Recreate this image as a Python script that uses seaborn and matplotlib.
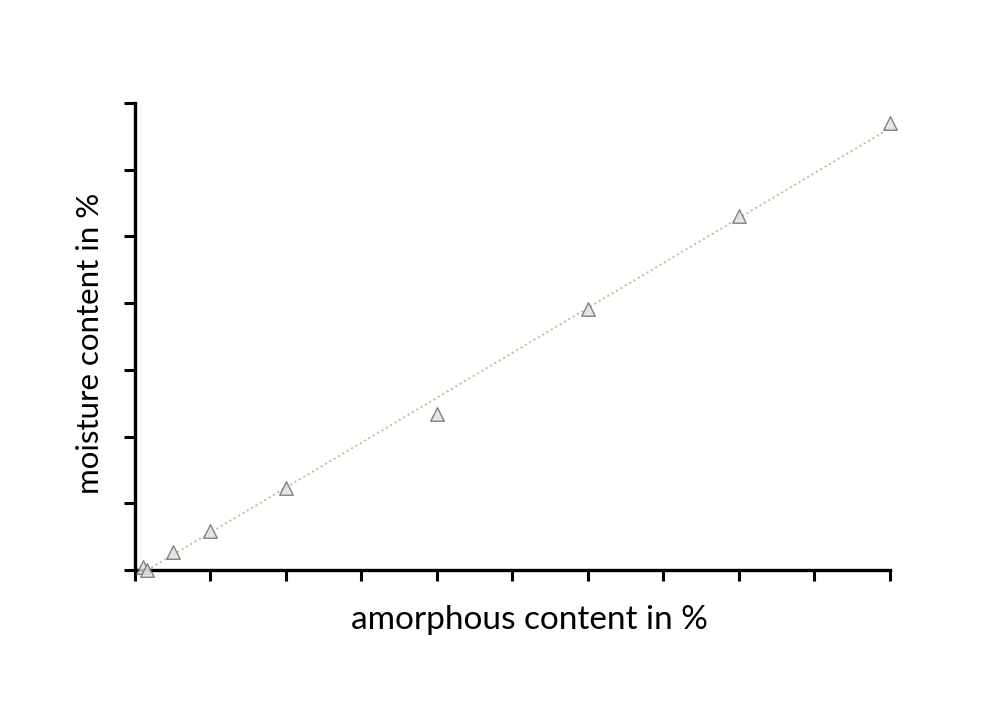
import numpy as np
import pandas as pd
import matplotlib
matplotlib.use("Agg")
import matplotlib.pyplot as plt
import seaborn as sns

# values (axes carry no tick labels)
amorphous = [1.0, 1.6, 5, 10, 20, 40, 60, 80, 100]
moisture = [0.05, 0.0, 0.27, 0.58, 1.23, 2.34, 3.91, 5.31, 6.70]
x_ticks = list(range(0, 101, 10))
y_ticks = list(range(0, 8))

df = pd.DataFrame({"amorphous": amorphous, "moisture": moisture})

sns.set_theme(style="ticks")
plt.rcParams["font.family"] = ["Lato", "DejaVu Sans"]

fig = plt.figure(figsize=(9.91, 7.19), dpi=100)
ax = fig.add_axes([0.1362, 0.2072, 0.898 - 0.1362, 0.8567 - 0.2072])

sns.regplot(
    data=df, x="amorphous", y="moisture", ci=None, truncate=True, ax=ax, marker="^",
    scatter_kws=dict(s=95, facecolor="#e0e0e0", edgecolor="#666666", linewidths=1.0, zorder=3, clip_on=False),
    line_kws=dict(color="#c9bc8e", linestyle=(0, (1.2, 1.6)), linewidth=1.3, zorder=2),
)

ax.set_xlim(0, 100)
ax.set_ylim(0, 7)
ax.set_xticks(x_ticks)
ax.set_yticks(y_ticks)
ax.set_xticklabels([])
ax.set_yticklabels([])
ax.tick_params(axis="both", direction="out", length=8, width=2.2, color="black")
for side in ["left", "bottom"]:
    ax.spines[side].set_linewidth(2.4)
    ax.spines[side].set_color("black")
sns.despine(ax=ax)

ax.set_xlabel("amorphous content in %", fontsize=24, labelpad=14, color="black", x=0.522)
ax.set_ylabel("moisture content in %", fontsize=22.5, labelpad=11, color="black", y=0.486)

plt.savefig("out.png", dpi=100)
plt.close()
